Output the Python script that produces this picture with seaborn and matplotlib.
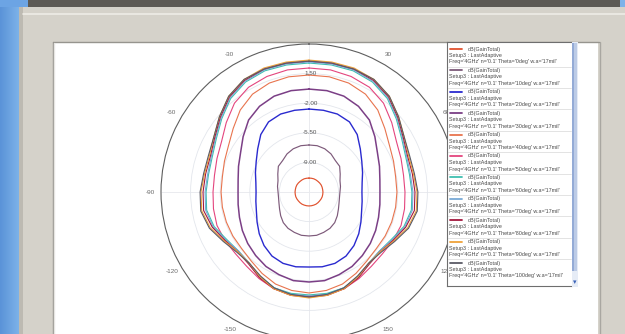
import numpy as np
import pandas as pd
import matplotlib
matplotlib.use("Agg")
import matplotlib.pyplot as plt
from matplotlib.patches import Rectangle
from matplotlib.lines import Line2D
import seaborn as sns

# ---- data: dB(GainTotal) vs Phi (deg), one trace per Theta; pattern is mirror-symmetric about Phi=0/180
phi_half = [0, 10, 20, 30, 40, 50, 60, 70, 80, 90, 100, 110, 120, 130, 140, 150, 160, 170, 180]
theta_names = ["0deg", "10deg", "20deg", "30deg", "40deg", "50deg",
               "60deg", "70deg", "80deg", "90deg", "100deg"]

gain_t0 = [-10.85, -10.85, -10.84, -10.85, -10.86, -10.85, -10.84, -10.85, -10.86, -10.85,
           -10.85, -10.84, -10.85, -10.86, -10.85, -10.84, -10.85, -10.85, -10.85]
gain_t10 = [-6.94, -6.94, -7.06, -7.30, -7.65, -7.77, -8.24, -8.60, -8.72, -8.84,
            -8.84, -8.72, -8.48, -8.13, -7.77, -7.54, -7.42, -7.30, -7.30]
gain_t20 = [-2.69, -2.69, -2.69, -2.93, -3.63, -4.58, -5.29, -5.76, -6.12, -6.24,
            -6.12, -5.88, -5.41, -4.82, -4.23, -3.75, -3.52, -3.52, -3.63]
gain_t30 = [-0.33, -0.33, -0.44, -0.80, -1.39, -2.33, -3.16, -3.63, -3.99, -4.11,
            -3.99, -3.75, -3.40, -3.04, -2.69, -2.33, -2.10, -1.86, -1.86]
gain_t40 = [1.33, 1.33, 1.21, 0.86, 0.15, -0.80, -1.51, -1.86, -2.10, -2.10,
            -2.10, -2.10, -2.10, -2.10, -1.86, -1.39, -0.92, -0.68, -0.56]
gain_t50 = [2.16, 2.16, 2.04, 1.80, 1.21, 0.27, -0.56, -0.92, -1.15, -1.15,
            -1.03, -0.92, -1.03, -1.15, -1.03, -0.68, -0.33, -0.21, -0.21]
gain_t60 = [2.75, 2.75, 2.75, 2.51, 1.92, 0.97, 0.15, -0.33, -0.44, -0.33,
            -0.21, -0.56, -1.27, -1.63, -1.51, -0.92, -0.44, -0.33, -0.33]
gain_t70 = [2.87, 2.87, 2.87, 2.63, 2.04, 1.09, 0.27, -0.21, -0.33, -0.21,
            -0.09, -0.44, -1.15, -1.63, -1.51, -0.92, -0.44, -0.21, -0.21]
gain_t80 = [2.98, 2.98, 2.98, 2.75, 2.16, 1.21, 0.38, -0.09, -0.09, 0.03,
            0.15, -0.33, -1.03, -1.51, -1.39, -0.80, -0.33, -0.09, -0.09]
gain_t90 = [3.10, 3.10, 3.10, 2.87, 2.28, 1.33, 0.50, 0.03, 0.03, 0.27,
            0.38, -0.09, -0.92, -1.51, -1.51, -0.92, -0.33, -0.09, 0.03]
gain_t100 = [2.98, 2.98, 2.98, 2.87, 2.28, 1.33, 0.50, 0.15, 0.15, 0.38,
             0.50, 0.03, -0.80, -1.39, -1.51, -1.03, -0.44, -0.21, -0.09]

gains = [gain_t0, gain_t10, gain_t20, gain_t30, gain_t40, gain_t50,
         gain_t60, gain_t70, gain_t80, gain_t90, gain_t100]

r_ticks = [-9.0, -5.5, -2.0, 1.5]
r_tick_labels = ["-9.00", "-5.50", "-2.00", "1.50"]
ang_ticks = [0, 30, 60, 90, 120, 150, 180, 210, 240, 270, 300, 330]
ang_labels = ["", "30", "60", "", "120", "150", "", "-150", "-120", "-90", "-60", "-30"]

trace_colors = ["#E0522E", "#7D5A7A", "#2A2ACF", "#7B3F86", "#E8744E", "#E4457E",
                "#3FBFB0", "#78A9D6", "#A3173D", "#EFA23A", "#5A5A66"]
trace_widths = [0.85, 0.85, 1.0, 1.1, 0.8, 0.8, 0.8, 0.8, 0.8, 0.8, 0.8]

# ---- long table: mirror the half sweep to close each trace over 0..360 deg
rows = []
for name, g in zip(theta_names, gains):
    phi_full = phi_half + [360 - p for p in phi_half[-2::-1]]
    g_full = g + g[-2::-1]
    for p, v in zip(phi_full, g_full):
        rows.append({"theta": name, "phi": np.deg2rad(p), "gain": v})
df = pd.DataFrame(rows)

sns.set_theme(style="white")
plt.rcParams["font.family"] = ["Liberation Sans", "DejaVu Sans"]

W, H = 625, 334
fig = plt.figure(figsize=(W / 100, H / 100), dpi=100)
fig.patch.set_facecolor("#D5D2CA")

# ---- window chrome drawn in pixel coordinates
bg = fig.add_axes([0, 0, 1, 1])
bg.set_zorder(-1)
bg.set_xlim(0, W)
bg.set_ylim(H, 0)
bg.axis("off")
grad = np.linspace(0, 1, 32)[None, :]
bg.imshow(grad, extent=[0, 19, H, 0], aspect="auto",
          cmap=matplotlib.colors.LinearSegmentedColormap.from_list("b", ["#5A93D8", "#7DB2E9"]))
bg.add_patch(Rectangle((0, 0), 30, 7, color="#6CA4E4", lw=0))
bg.add_patch(Rectangle((19, 7), 4, H, color="#BDBAB2", lw=0))
bg.add_patch(Rectangle((28, 0), 592, 6.5, color="#5C5954", lw=0))
bg.add_patch(Rectangle((620, 0), 5, 7, color="#7DB2E9", lw=0))
bg.plot([23, W], [14, 14], color="#EEECE6", lw=1.2)
bg.add_patch(Rectangle((53, 42), 545, H - 42, facecolor="white", edgecolor="none"))
bg.plot([52.5, 52.5], [42, H], color="#96948E", lw=1)
bg.plot([52.5, 598.5], [41.8, 41.8], color="#96948E", lw=1)
bg.plot([54, 54], [43, H], color="#E6E5E1", lw=1)
bg.plot([599.5, 599.5], [42, H], color="#A9A7A1", lw=1)

# ---- polar plot: centre (309,192) px, radius 148 px
cx, cy, rad = 309, 192, 148
ax = fig.add_axes([(cx - rad) / W, (H - cy - rad) / H, 2 * rad / W, 2 * rad / H],
                  projection="polar")
ax.set_zorder(1)
ax.set_facecolor("none")
ax.set_theta_zero_location("N")
ax.set_theta_direction(-1)

sns.lineplot(data=df, x="phi", y="gain", hue="theta", hue_order=theta_names,
             palette=trace_colors, sort=False, estimator=None, legend=False,
             ax=ax, linewidth=0.9)
for ln, lw in zip(ax.lines, trace_widths):
    ln.set_linewidth(lw)

ax.set_ylim(-12.5, 5.0)
ax.set_yticks(r_ticks)
ax.set_yticklabels([])
ax.yaxis.grid(True, color="#E3E6EC", lw=0.6)
ax.xaxis.grid(False)
ax.vlines(np.deg2rad([0, 90, 180, 270]), -12.5, 5.0, color="#E6E8EC", lw=0.6, zorder=0)
ax.set_xlabel("")
ax.set_ylabel("")

ax.set_xticks(np.deg2rad(ang_ticks))
ax.set_xticklabels(ang_labels)
ax.set_xticks(np.deg2rad(np.arange(0, 360, 5)), minor=True)
ax.tick_params(axis="x", which="major", direction="in", length=6, width=0.7,
               color="#505050", pad=0.5, labelsize=4.6, labelcolor="#6A6A6A")
ax.tick_params(axis="x", which="minor", direction="in", length=3, width=0.5, color="#707070")
ax.spines["polar"].set_color("#5E5E5E")
ax.spines["polar"].set_linewidth(0.8)

for rv, lab in zip(r_ticks, r_tick_labels):
    ax.text(np.deg2rad(1.0), rv, lab, ha="center", va="center",
            fontsize=4.5, color="#555555", zorder=5)

# ---- trace list panel with scroll bar (pixel coordinates)
lx0, lx1, ly0, ly1 = 447, 572, 42, 286
lg = fig.add_axes([lx0 / W, (H - ly1) / H, (lx1 - lx0) / W, (ly1 - ly0) / H])
lg.set_zorder(3)
lg.set_xlim(lx0, lx1)
lg.set_ylim(ly1, ly0)
lg.set_xticks([])
lg.set_yticks([])
lg.set_facecolor("white")
for s in ["left", "bottom", "top"]:
    lg.spines[s].set_color("#6E6E6E")
    lg.spines[s].set_linewidth(0.8)
lg.spines["right"].set_visible(False)

pitch = 21.4
for i, (name, col) in enumerate(zip(theta_names, trace_colors)):
    y = 49 + pitch * i
    lg.add_line(Line2D([450, 462], [y, y], color=col, lw=1.3))
    lg.text(468, y, "dB(GainTotal)", fontsize=3.9, color="#4A4A4A", va="center")
    lg.text(449, y + 6.5, "Setup3 : LastAdaptive", fontsize=3.9, color="#4A4A4A", va="center")
    lg.text(449, y + 13, f"Freq='4GHz' n='0.1' Theta='{name}' w.a='17mil'",
            fontsize=3.9, color="#4A4A4A", va="center")
    if i < len(theta_names) - 1:
        lg.add_line(Line2D([448, 571], [y + 17.6, y + 17.6], color="#D8D8D8", lw=0.5))

sb = fig.add_axes([572 / W, (H - 287) / H, 6 / W, 245 / H])
sb.set_zorder(3)
sb.set_xlim(0, 6)
sb.set_ylim(245, 0)
sb.axis("off")
sb.add_patch(Rectangle((0, 0), 6, 245, color="#E6ECF6", lw=0))
sb.add_patch(Rectangle((0.3, 1), 5, 228, color="#BCCBE6", lw=0))
sb.add_patch(Rectangle((0.3, 1), 1.6, 228, color="#94ABD6", lw=0))
sb.text(3, 240, "\u25BE", ha="center", va="center", fontsize=5, color="#3A62B8",
        family="DejaVu Sans")

fig.savefig("out.png", dpi=100, facecolor=fig.get_facecolor())
